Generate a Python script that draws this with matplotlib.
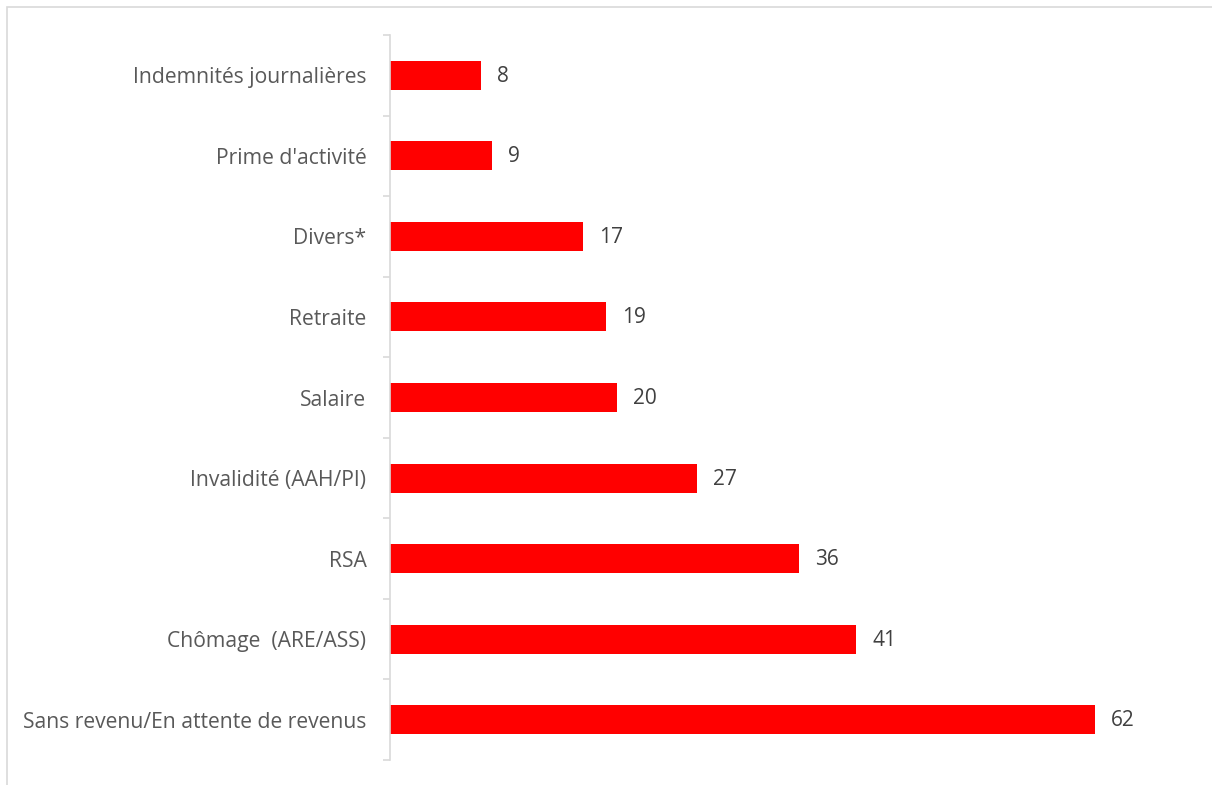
import matplotlib
matplotlib.use("Agg")
import matplotlib.pyplot as plt
from matplotlib.patches import Rectangle
import numpy as np

categories = ["Sans revenu/En attente de revenus", "Chômage  (ARE/ASS)", "RSA",
              "Invalidité (AAH/PI)", "Salaire", "Retraite", "Divers*",
              "Prime d'activité", "Indemnités journalières"]
values = [62, 41, 36, 27, 20, 19, 17, 9, 8]

W, H = 1212, 785
fig = plt.figure(figsize=(W/100, H/100), dpi=100)
fig.patches.append(Rectangle((6.5/W, -0.1), 1.2, (1 - 6.5/H) + 0.1, transform=fig.transFigure,
                             fill=False, edgecolor="#d9d9d9", linewidth=1.2))

left = 390/W
ax = fig.add_axes([left, 1 - 760/H, (1186 - 390)/W, (760 - 35)/H])
y = np.arange(len(categories))
ax.barh(y, values, height=0.36, color="#ff0000")
ax.set_xlim(0, 70)
ax.set_ylim(-0.5, len(categories) - 0.5)

font = "Open Sans"
for yi, v in zip(y, values):
    ax.annotate(str(v), (v, yi), xytext=(16, -1), textcoords="offset pixels",
                va="center", ha="left", fontsize=15, color="#404040", family=font)

for s in ["top", "right", "bottom"]:
    ax.spines[s].set_visible(False)
ax.spines["left"].set_color("#d9d9d9")
ax.spines["left"].set_linewidth(1.2)
ax.set_xticks([])
ax.set_yticks(y)
ax.set_yticklabels(categories, family=font, fontsize=15.2, color="#595959")
ax.tick_params(axis="y", which="major", length=0, pad=17)
ax.set_yticks(np.arange(-0.5, len(categories), 1.0), minor=True)
ax.tick_params(axis="y", which="minor", length=5, color="#d9d9d9", width=1.2)

fig.savefig("out.png", dpi=100)
